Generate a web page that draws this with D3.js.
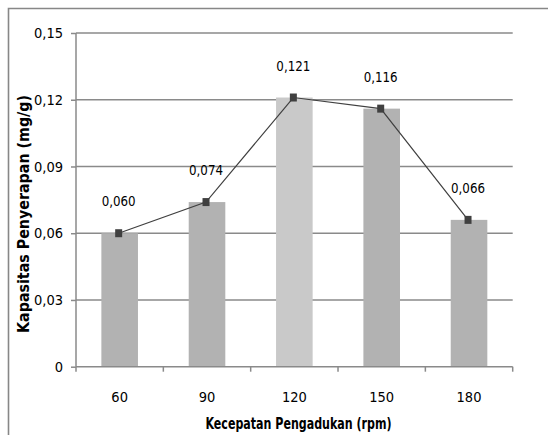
<!DOCTYPE html>
<html><head><meta charset="utf-8">
<script src="https://cdn.jsdelivr.net/npm/d3@7"></script>
<style>
body{margin:0;background:#fff;}
svg{display:block;}
text{font-family:"DejaVu Sans Condensed",sans-serif;fill:#000;}
</style></head>
<body><svg id="c" width="548" height="435"></svg>
<script>
const categories = ["60","90","120","150","180"];
const values = [0.060, 0.074, 0.121, 0.116, 0.066];
const labels = ["0,060","0,074","0,121","0,116","0,066"];
const barColors = ["#b2b2b2","#b2b2b2","#c9c9c9","#b2b2b2","#b2b2b2"];
const yTicks = [0, 0.03, 0.06, 0.09, 0.12, 0.15];
const yTickLabels = ["0","0,03","0,06","0,09","0,12","0,15"];

const svg = d3.select("#c");
const m = {left:76, right:512.7, top:33, bottom:366.7};

// outer border
svg.append("path").attr("d","M8.5,435 V8.5 H548").attr("fill","none").attr("stroke","#878787").attr("stroke-width",1.6);

const xb = d3.scaleBand().domain(categories).range([m.left, m.right]);
const y = d3.scaleLinear().domain([0, 0.15]).range([m.bottom, m.top]);

// gridlines
svg.append("g").selectAll("line").data(yTicks.slice(1)).join("line")
  .attr("x1", m.left).attr("x2", m.right).attr("y1", d=>y(d)).attr("y2", d=>y(d))
  .attr("stroke","#8a8a8a").attr("stroke-width",1.5);

// bars
svg.append("g").selectAll("rect").data(values).join("rect")
  .attr("x",(d,i)=>xb(categories[i]) + xb.bandwidth()/2 - 18.3)
  .attr("width",36.6)
  .attr("y",d=>y(d)).attr("height",d=>y(0)-y(d))
  .attr("fill",(d,i)=>barColors[i]);

// y axis
const yAxis = svg.append("g").attr("transform",`translate(${m.left},0)`)
  .call(d3.axisLeft(y).tickValues(yTicks).tickFormat((d,i)=>yTickLabels[i]).tickSize(5).tickPadding(8));
yAxis.select(".domain").attr("stroke","#8a8a8a").attr("stroke-width",1.5).attr("d",`M0,${m.top}V${m.bottom}`);
yAxis.selectAll(".tick line").attr("stroke","#8a8a8a").attr("stroke-width",1.5);
yAxis.selectAll("text").attr("font-size","14.5px").attr("font-family",null);

// x axis
const xAxis = svg.append("g").attr("transform",`translate(0,${m.bottom})`)
  .call(d3.axisBottom(xb).tickSize(0).tickPadding(25));
xAxis.select(".domain").attr("stroke","#8a8a8a").attr("stroke-width",1.5).attr("d",`M${m.left},0H${m.right}`);
xAxis.selectAll("text").attr("font-size","14.5px").attr("font-family",null);
// x tick marks at band boundaries
svg.append("g").selectAll("line").data(categories.concat(["end"])).join("line")
  .attr("x1",(d,i)=>m.left + i*xb.step()).attr("x2",(d,i)=>m.left + i*xb.step())
  .attr("y1",m.bottom).attr("y2",m.bottom+5)
  .attr("stroke","#8a8a8a").attr("stroke-width",1.5);

// line
const cx = (i)=>xb(categories[i]) + xb.bandwidth()/2 - 1;
svg.append("path").datum(values)
  .attr("d", d3.line().x((d,i)=>cx(i)).y(d=>y(d)))
  .attr("fill","none").attr("stroke","#404040").attr("stroke-width",1.2);
svg.append("g").selectAll("rect").data(values).join("rect")
  .attr("x",(d,i)=>cx(i)-3.5).attr("y",d=>y(d)-4)
  .attr("width",7).attr("height",8).attr("fill","#404040");

// data labels
svg.append("g").selectAll("text").data(values).join("text")
  .attr("x",(d,i)=>cx(i)).attr("y",d=>y(d)-27)
  .attr("text-anchor","middle").attr("font-size","14.5px")
  .attr("textLength",34).attr("lengthAdjust","spacingAndGlyphs")
  .text((d,i)=>labels[i]);

// axis titles
svg.append("text").attr("x",298.5).attr("y",429)
  .attr("text-anchor","middle").attr("font-size","16px").attr("font-weight","bold")
  .attr("textLength",186).attr("lengthAdjust","spacingAndGlyphs")
  .text("Kecepatan Pengadukan (rpm)");
svg.append("text").attr("transform",`translate(29,214) rotate(-90)`)
  .attr("text-anchor","middle").attr("font-size","15.5px").attr("font-weight","bold")
  .attr("font-family","'DejaVu Sans','Liberation Sans',sans-serif")
  .attr("textLength",238).attr("lengthAdjust","spacingAndGlyphs")
  .text("Kapasitas Penyerapan (mg/g)");
</script></body></html>
